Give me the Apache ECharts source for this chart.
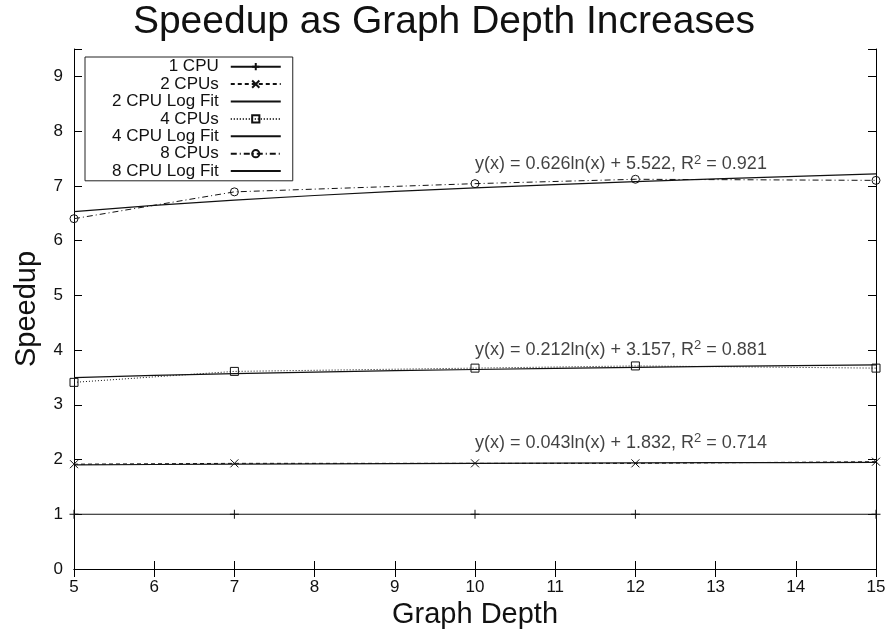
<!DOCTYPE html>
<html>
<head>
<meta charset="utf-8">
<script src="https://cdn.jsdelivr.net/npm/echarts@6/dist/echarts.min.js"></script>
<style>
html,body{margin:0;padding:0;background:#fff;}
#c{width:888px;height:629px;}
</style>
</head>
<body>
<div id="c"></div>
<script>
const depths = [5, 7, 10, 12, 15];
const cpu1 = [1, 1, 1, 1, 1];
const cpu2 = [1.915, 1.93, 1.93, 1.93, 1.96];
const cpu4 = [3.41, 3.61, 3.67, 3.71, 3.67];
const cpu8 = [6.40, 6.89, 7.04, 7.12, 7.10];
const fitDepths = [5, 6, 7, 8, 9, 10, 11, 12, 13, 14, 15];
const fit2 = [1.901, 1.909, 1.916, 1.921, 1.926, 1.931, 1.935, 1.939, 1.942, 1.945, 1.948];
const fit4 = [3.498, 3.537, 3.570, 3.598, 3.623, 3.645, 3.665, 3.684, 3.701, 3.716, 3.731];
const fit8 = [6.530, 6.644, 6.740, 6.824, 6.898, 6.963, 7.023, 7.078, 7.128, 7.174, 7.217];
const eqX = [10, 10, 10];
const eqY = [7.39, 4.0, 2.3];
const eqMain = ['y(x) = 0.626ln(x) + 5.522, R', 'y(x) = 0.212ln(x) + 3.157, R', 'y(x) = 0.043ln(x) + 1.832, R'];
const eqR2 = ['0.921', '0.881', '0.714'];
const xTicks = [5, 6, 7, 8, 9, 10, 11, 12, 13, 14, 15];
const yTicks = [0, 1, 2, 3, 4, 5, 6, 7, 8, 9];

const pair = (xs, ys) => xs.map((x, i) => [x, ys[i]]);
const FONT = 'Liberation Sans, Arial, Helvetica, sans-serif';
const INK = '#111';
const plus = 'path://M0,5L10,5M5,0L5,10';
const cross = 'path://M0,0L10,10M10,0L0,10';

function dataSeries(name, ys, symbol, size, dash) {
  return {
    name, type: 'line', data: pair(depths, ys),
    symbol, symbolSize: size, showSymbol: true,
    itemStyle: { color: 'transparent', borderColor: INK, borderWidth: 1 },
    lineStyle: { color: INK, width: 1, type: dash },
    z: 3
  };
}
function fitSeries(name, ys) {
  return {
    name, type: 'line', data: pair(fitDepths, ys),
    symbol: 'none', smooth: false,
    itemStyle: { color: INK },
    lineStyle: { color: INK, width: 1.2, type: 'solid' },
    z: 2
  };
}

const eqData = eqX.map((x, i) => ({ value: [x, eqY[i]], main: eqMain[i], r2: eqR2[i] }));

const axisCommon = {
  type: 'value', min: 5, max: 15, interval: 1,
  splitLine: { show: false },
  axisLine: { show: true, lineStyle: { color: '#000', width: 1 } },
  axisTick: { show: true, inside: true, length: 8, lineStyle: { color: '#000' } }
};
const yCommon = {
  type: 'value', min: 0, max: 9.5, interval: 1,
  splitLine: { show: false },
  axisLine: { show: true, lineStyle: { color: '#000', width: 1 } },
  axisTick: { show: true, inside: true, length: 8, lineStyle: { color: '#000' } }
};

const hiddenMarker = { color: 'transparent', borderColor: 'transparent', borderWidth: 0 };

const option = {
  backgroundColor: '#fff',
  animation: false,
  textStyle: { fontFamily: FONT },
  title: {
    text: 'Speedup as Graph Depth Increases',
    left: 'center', top: -2,
    textStyle: { fontSize: 39, fontWeight: 'normal', color: '#111', fontFamily: FONT }
  },
  grid: { left: 74, right: 12, top: 49, bottom: 60, containLabel: false, outerBoundsMode: 'none' },
  legend: {
    data: [
      '1 CPU', '2 CPUs',
      { name: '2 CPU Log Fit', itemStyle: hiddenMarker },
      '4 CPUs',
      { name: '4 CPU Log Fit', itemStyle: hiddenMarker },
      '8 CPUs',
      { name: '8 CPU Log Fit', itemStyle: hiddenMarker }
    ],
    orient: 'vertical', align: 'right',
    left: 85, top: 57,
    itemWidth: 50, itemHeight: 9, itemGap: 0,
    padding: [1, 11, 1, 27],
    backgroundColor: '#fff', borderColor: '#222', borderWidth: 1,
    textStyle: { fontSize: 17, color: '#111', fontFamily: FONT, lineHeight: 17.4, padding: [0, 7, 0, 0] }
  },
  xAxis: [
    Object.assign({}, axisCommon, {
      position: 'bottom',
      name: 'Graph Depth', nameLocation: 'middle', nameGap: 30,
      nameTextStyle: { fontSize: 29, color: '#111', fontFamily: FONT },
      axisLabel: { fontSize: 17, color: '#111', margin: 10, fontFamily: FONT,
        formatter: v => xTicks.includes(v) ? String(v) : '' }
    }),
    Object.assign({}, axisCommon, { position: 'top', axisLabel: { show: false } })
  ],
  yAxis: [
    Object.assign({}, yCommon, {
      position: 'left',
      name: 'Speedup', nameLocation: 'middle', nameGap: 33,
      nameTextStyle: { fontSize: 29, color: '#111', fontFamily: FONT },
      axisLabel: { fontSize: 17, color: '#111', margin: 11, fontFamily: FONT,
        formatter: v => yTicks.includes(v) ? String(v) : '' }
    }),
    Object.assign({}, yCommon, { position: 'right', axisLabel: { show: false } })
  ],
  series: [
    dataSeries('1 CPU', cpu1, plus, 9, 'solid'),
    dataSeries('2 CPUs', cpu2, cross, 8, [4, 3]),
    fitSeries('2 CPU Log Fit', fit2),
    dataSeries('4 CPUs', cpu4, 'rect', 8, [1, 2]),
    fitSeries('4 CPU Log Fit', fit4),
    dataSeries('8 CPUs', cpu8, 'circle', 8, [6, 3, 1, 3]),
    fitSeries('8 CPU Log Fit', fit8),
    {
      name: 'equations', type: 'scatter', data: eqData, symbolSize: 0,
      silent: true, z: 5,
      label: {
        show: true, position: 'right', distance: 0,
        fontSize: 18, lineHeight: 22, color: '#111', fontFamily: FONT,
        formatter: p => p.data.main + '{sup|2}' + ' = ' + p.data.r2,
        rich: { sup: { fontSize: 13, lineHeight: 13, verticalAlign: 'top', color: '#111', fontFamily: FONT } }
      }
    }
  ]
};

const chart = echarts.init(document.getElementById('c'), null, { renderer: 'canvas' });
chart.setOption(option);
</script>
</body>
</html>
